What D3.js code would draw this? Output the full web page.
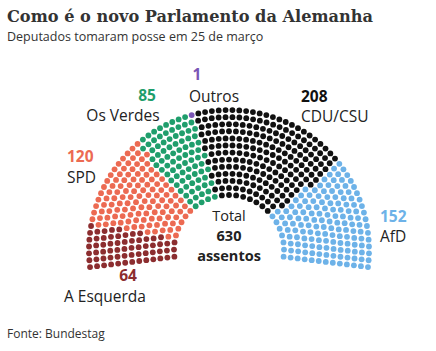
<!DOCTYPE html>
<html><head><meta charset="utf-8">
<script src="https://cdn.jsdelivr.net/npm/d3@7"></script>
<style>
html,body{margin:0;padding:0;background:#fff;}
svg{display:block;}
</style></head>
<body>
<svg id="chart" width="436" height="351"></svg>
<script>
const parties = ["A Esquerda", "SPD", "Os Verdes", "Outros", "CDU/CSU", "AfD"];
const seats = [64, 120, 85, 1, 208, 152];
const colors = ["#8c2d2f", "#ec6a52", "#1f9e6c", "#7a55b5", "#111111", "#6db2e8"];
const totalLabel = ["Total", "630", "assentos"];

const svg = d3.select("#chart");
const cx = 229, cy = 250;
const rows = 13, rInner = 55, rOuter = 140;
const spanDeg = 194;
const total = d3.sum(seats);

const rScale = d3.scaleLinear().domain([0, rows - 1]).range([rInner, rOuter]);
const radii = d3.range(rows).map(rScale);
const sumR = d3.sum(radii);
let counts = radii.map(r => Math.round(total * r / sumR));
let diff = total - d3.sum(counts);
let k = rows - 1;
while (diff !== 0) { counts[k] += diff > 0 ? 1 : -1; diff += diff > 0 ? -1 : 1; k = (k - 1 + rows) % rows; }

const a0 = (180 + (spanDeg - 180) / 2) * Math.PI / 180;
const a1 = (-(spanDeg - 180) / 2) * Math.PI / 180;
let pts = [];
radii.forEach((r, i) => {
  const n = counts[i];
  const aScale = d3.scaleLinear().domain([0, n - 1]).range([a0, a1]);
  for (let j = 0; j < n; j++) {
    const a = aScale(j);
    pts.push({a, r, row: i, x: cx + r * Math.cos(a), y: cy - r * Math.sin(a)});
  }
});
pts.sort((p, q) => (q.a - p.a) || (p.r - q.r));
const cum = d3.cumsum(seats);
pts.forEach((p, i) => { p.party = cum.findIndex(c => i < c); });

// place the single "Outros" seat on the outer row at its boundary
const oIdx = parties.indexOf("Outros");
const oPt = pts.find(p => p.party === oIdx);
const outer = pts.filter(p => p.row === rows - 1);
const target = outer.reduce((best, p) => Math.abs(p.a - oPt.a) < Math.abs(best.a - oPt.a) ? p : best, outer[0]);
if (target !== oPt) { oPt.party = target.party; target.party = oIdx; }

const color = d3.scaleOrdinal().domain(d3.range(parties.length)).range(colors);
svg.append("g").selectAll("circle").data(pts).join("circle")
  .attr("cx", d => d.x).attr("cy", d => d.y).attr("r", 2.9)
  .attr("fill", d => color(d.party));

svg.append("text").attr("x", 7).attr("y", 22)
  .attr("font-family", "DejaVu Serif").attr("font-weight", "bold").attr("font-size", 16)
  .attr("fill", "#333").attr("textLength", 366).attr("lengthAdjust", "spacingAndGlyphs")
  .text("Como é o novo Parlamento da Alemanha");
svg.append("text").attr("x", 7).attr("y", 41)
  .attr("font-family", "Open Sans").attr("font-size", 12.5).attr("fill", "#333")
  .text("Deputados tomaram posse em 25 de março");
svg.append("text").attr("x", 7).attr("y", 338)
  .attr("font-family", "Open Sans").attr("font-size", 12).attr("fill", "#333")
  .text("Fonte: Bundestag");

const labelPos = [
  {nx: 128, na: "middle", x: 105, y1: 281, y2: 302, anchor: "middle"},
  {nx: 67, na: "start", x: 67, y1: 162, y2: 183, anchor: "start"},
  {nx: 147, na: "middle", x: 123, y1: 101, y2: 121, anchor: "middle"},
  {nx: 197, na: "middle", x: 214, y1: 80, y2: 102, anchor: "middle"},
  {nx: 301, na: "start", x: 301, y1: 102, y2: 122, anchor: "start"},
  {nx: 380, na: "start", x: 380, y1: 222, y2: 242, anchor: "start"}
];
const lg = svg.append("g").attr("font-family", "Open Sans").attr("font-size", 15.5);
parties.forEach((p, i) => {
  const L = labelPos[i];
  lg.append("text").attr("x", L.nx).attr("y", L.y1).attr("text-anchor", L.na)
    .attr("font-weight", "bold").attr("fill", i === 4 ? "#111" : colors[i]).text(seats[i]);
  lg.append("text").attr("x", L.x).attr("y", L.y2).attr("text-anchor", L.anchor)
    .attr("fill", "#222").text(p);
});

const tg = svg.append("g").attr("font-family", "Open Sans").attr("font-size", 14.5)
  .attr("text-anchor", "middle").attr("fill", "#222");
tg.append("text").attr("x", cx).attr("y", 221).text(totalLabel[0]);
tg.append("text").attr("x", cx).attr("y", 241).attr("font-weight", "bold").text(d3.sum(seats));
tg.append("text").attr("x", cx).attr("y", 261).attr("font-weight", "bold").text(totalLabel[2]);
</script>
</body></html>
